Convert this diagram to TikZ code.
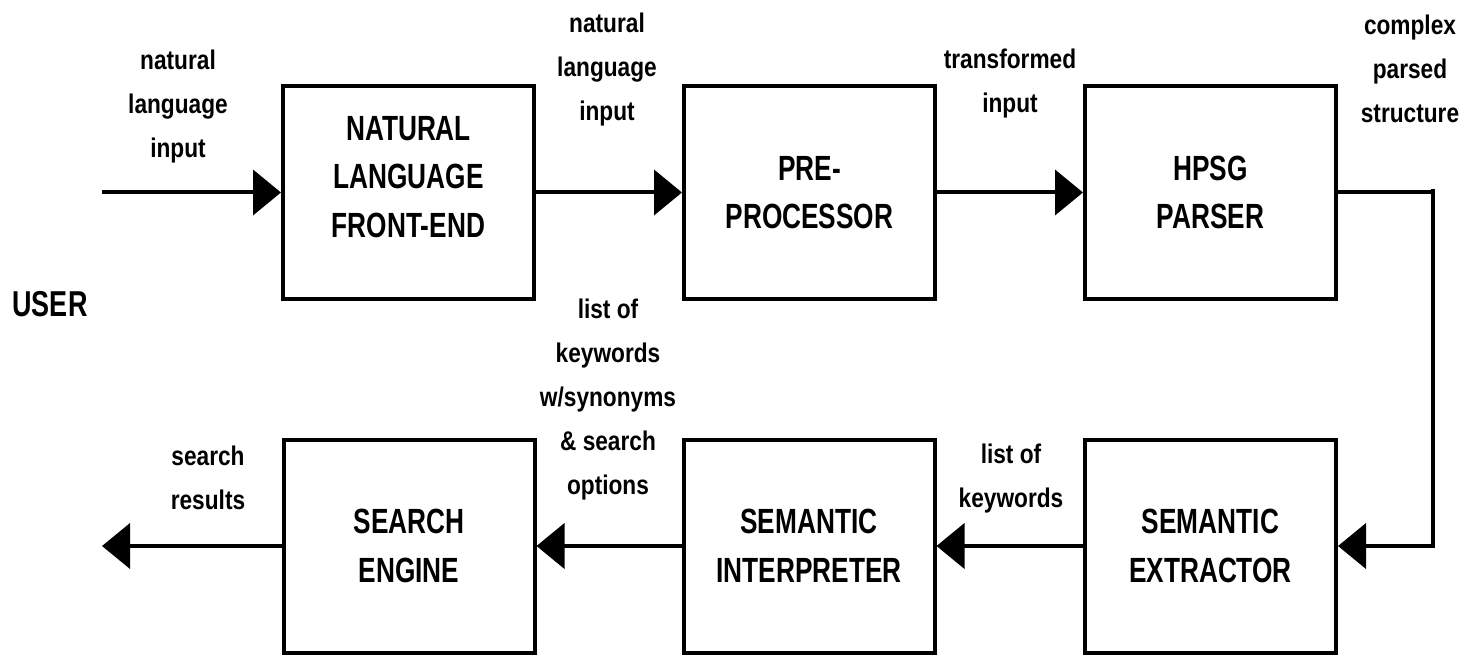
\documentclass[tikz,border=0pt]{standalone}
\usepackage{fontspec}
\setmainfont{Liberation Sans}
\newfontfamily\narrowsans{Liberation Sans}[FakeStretch=0.75]
\newfontfamily\labelsans{Liberation Sans}[FakeStretch=0.84]
\usetikzlibrary{arrows.meta}
\tikzset{
  block/.style={draw, line width=4pt, minimum width=251pt, minimum height=213pt,
    inner sep=0pt, align=center, font=\narrowsans\bfseries\fontsize{35}{48.5}\selectfont},
  flow/.style={line width=4pt, -{Triangle[length=28pt,width=45pt]}},
  wire/.style={line width=4pt},
  tag/.style={align=center, inner sep=0pt, font=\labelsans\bfseries\fontsize{27}{44}\selectfont},
}
\begin{document}
\begin{tikzpicture}[x=1pt,y=-1pt]
\useasboundingbox (0,0) rectangle (1468,655);

% processing stages, top row left to right
\node[block, text depth=32pt] (nlfe) at (408.5,192.5) {NATURAL\\LANGUAGE\\FRONT-END};
\node[block] (prep)   at (809.5,192.5) {PRE-\\PROCESSOR};
\node[block] (hpsg)   at (1210.5,192.5) {HPSG\\PARSER};
% bottom row, flowing right to left
\node[block] (search) at (409,546) {SEARCH\\ENGINE};
\node[block] (interp) at (809,546) {SEMANTIC\\INTERPRETER};
\node[block] (extr)   at (1210.5,546) {SEMANTIC\\EXTRACTOR};

\node[font=\narrowsans\bfseries\fontsize{36}{48}\selectfont, inner sep=0pt] (user) at (50,304.5) {USER};

% free ends and the bend on the right
\coordinate (userin)  at (102,192.5);
\coordinate (userout) at (102,546);
\coordinate (bend)    at (1433,189);

% connectors
\draw[flow] (userin) -- (nlfe.west);
\draw[flow] (nlfe.east) -- (prep.west);
\draw[flow] (prep.east) -- (hpsg.west);
\draw[wire] (hpsg.east) -- (hpsg.east -| bend);
\draw[flow] (bend) |- (extr.east);
\draw[flow] (extr.west) -- (interp.east);
\draw[flow] (interp.west) -- (search.east);
\draw[flow] (search.west) -- (userout);

% data labels
\node[tag] (t0) at (178,107) {natural\\language\\input};
\node[tag] (t1) at (607,70) {natural\\language\\input};
\node[tag] (t2) at (1010,84) {transformed\\input};
\node[tag] (t3) at (1410,69) {complex\\parsed\\structure};
\node[tag] (t4) at (608,400) {list of\\keywords\\w/synonyms\\\& search\\options};
\node[tag] (t5) at (1011,479) {list of\\keywords};
\node[tag] (t6) at (208,477.5) {search\\results};
\end{tikzpicture}
\end{document}
